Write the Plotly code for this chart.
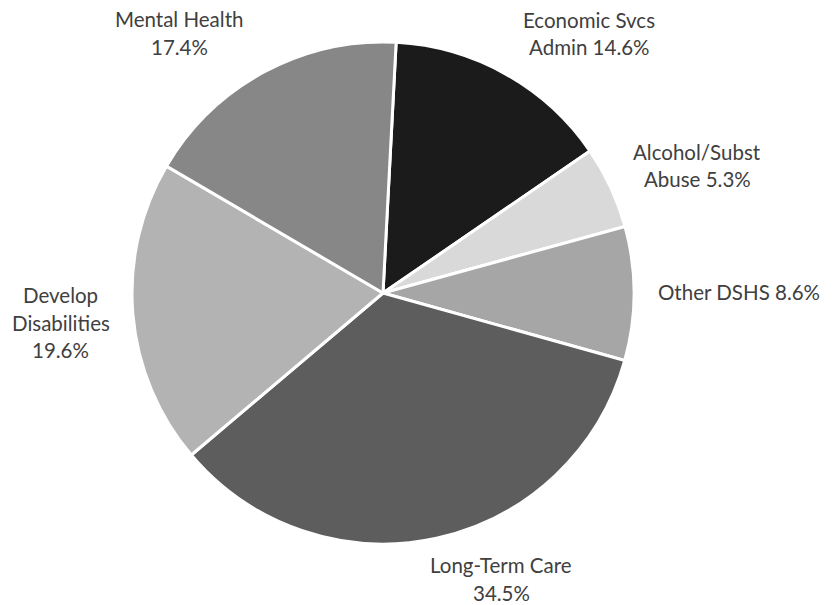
import plotly.graph_objects as go

# Budget shares by program area, clockwise from 12 o'clock
categories = ["Economic Svcs Admin", "Alcohol/Subst Abuse", "Other DSHS",
              "Long-Term Care", "Develop Disabilities", "Mental Health"]
shares = [14.6, 5.3, 8.6, 34.5, 19.6, 17.4]
# Label text split into lines as displayed around the pie
label_lines = [["Economic Svcs", "Admin {v:.1f}%"],
               ["Alcohol/Subst", "Abuse {v:.1f}%"],
               ["Other DSHS {v:.1f}%"],
               ["Long-Term Care", "{v:.1f}%"],
               ["Develop", "Disabilities", "{v:.1f}%"],
               ["Mental Health", "{v:.1f}%"]]
slice_colors = ["#1b1b1b", "#d9d9d9", "#a6a6a6", "#5d5d5d", "#b3b3b3", "#878787"]

W, H = 833, 605
# label centre positions in pixels (x, y of first line)
label_pos = [(589, 19.5), (697, 152), (739, 291.5), (501, 565), (61, 295), (179, 19)]
LINE_GAP = 27.5

fig = go.Figure()
fig.add_trace(go.Pie(
    labels=categories,
    values=shares,
    sort=False,
    direction="clockwise",
    rotation=3,
    marker=dict(colors=slice_colors, line=dict(color="white", width=3)),
    textinfo="none",
    hoverinfo="label+percent",
    showlegend=False,
    domain=dict(x=[(383 - 251) / W, (383 + 251) / W],
                y=[1 - 544 / H, 1 - 42 / H]),
))

for lines, v, (px, py) in zip(label_lines, shares, label_pos):
    for i, ln in enumerate(lines):
        fig.add_annotation(
            text=ln.format(v=v),
            xref="paper", yref="paper",
            x=px / W, y=1 - (py + i * LINE_GAP) / H,
            xanchor="center", yanchor="middle",
            showarrow=False, borderpad=0,
            font=dict(family="Lato", size=20.5, color="#404040"),
        )

fig.update_layout(
    width=W, height=H,
    margin=dict(l=0, r=0, t=0, b=0),
    paper_bgcolor="white",
    plot_bgcolor="white",
)

fig.write_html("out.html")
